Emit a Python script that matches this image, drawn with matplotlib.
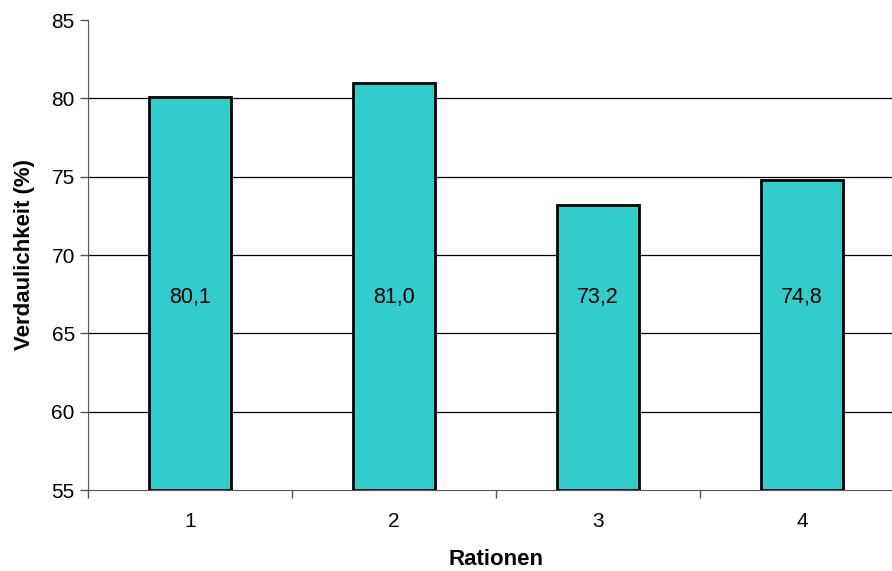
import numpy as np
import matplotlib.pyplot as plt

plt.rcParams['font.family'] = ['Liberation Sans', 'DejaVu Sans']

# Data
rationen = ['1', '2', '3', '4']
verdaulichkeit = [80.1, 81.0, 73.2, 74.8]
labels = ['80,1', '81,0', '73,2', '74,8']

fig = plt.figure(figsize=(8.92, 5.71), dpi=100)
# plot area runs past the right edge of the picture, as in the original
ax = fig.add_axes([88/892, 1 - 490/571, 816/892, 470/571])

x = np.arange(len(rationen))
bars = ax.bar(x, np.array(verdaulichkeit) - 55, bottom=55, width=0.4,
              color='#33CCCC', edgecolor='black', linewidth=2, zorder=3)

# labels sit at about the same height inside each bar
for xi, lab in zip(x, labels):
    ax.text(xi, 67.3, lab, ha='center', va='center', fontsize=15.5, zorder=4)

ax.set_xlim(-0.5, 3.5)
ax.set_ylim(55, 85)
ax.set_yticks(np.arange(55, 86, 5))
for yv in range(60, 85, 5):
    ax.axhline(yv, color='black', linewidth=0.9, zorder=1)

ax.set_xticks(x)
ax.set_xticklabels(rationen)
ax.set_xticks(np.arange(-0.5, 4, 1), minor=True)
ax.tick_params(axis='x', which='major', length=0, pad=16, labelsize=15)
ax.tick_params(axis='x', which='minor', length=6, color='#555555', width=1)
ax.tick_params(axis='y', length=6, color='#555555', width=1, labelsize=15)

for s in ['top', 'right']:
    ax.spines[s].set_visible(False)
ax.spines['left'].set_color('#555555')
ax.spines['bottom'].set_color('#555555')

ax.set_xlabel('Rationen', fontsize=16, fontweight='bold', labelpad=13)
ax.set_ylabel('Verdaulichkeit (%)', fontsize=16, fontweight='bold', labelpad=12)

plt.savefig('out.png', dpi=100)
